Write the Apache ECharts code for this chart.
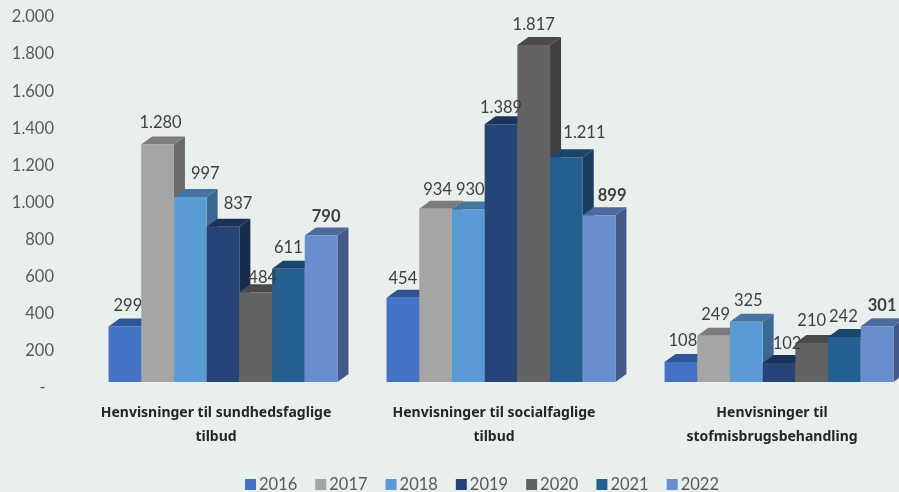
<!DOCTYPE html>
<html>
<head>
<meta charset="utf-8">
<style>html,body{margin:0;padding:0;background:#e9efed}#chart{width:899px;height:492px}</style>
<script src="https://cdn.jsdelivr.net/npm/echarts@6/dist/echarts.min.js"></script>
</head>
<body>
<div id="chart"></div>
<script>
const categories = [
  'Henvisninger til sundhedsfaglige\ntilbud',
  'Henvisninger til socialfaglige\ntilbud',
  'Henvisninger til\nstofmisbrugsbehandling'
];
const years = ['2016', '2017', '2018', '2019', '2020', '2021', '2022'];
const values2016 = [299, 454, 108];
const values2017 = [1280, 934, 249];
const values2018 = [997, 930, 325];
const values2019 = [837, 1389, 102];
const values2020 = [484, 1817, 210];
const values2021 = [611, 1211, 242];
const values2022 = [790, 899, 301];
const allValues = [values2016, values2017, values2018, values2019, values2020, values2021, values2022];

// front, top, side
const colors = [
  ['#4472c4', '#2f5597', '#32558f'],
  ['#a5a5a5', '#7c7c7c', '#6b6b6b'],
  ['#5b9bd5', '#44749f', '#3a6a94'],
  ['#264478', '#1c3359', '#182b4d'],
  ['#636363', '#4a4a4a', '#404040'],
  ['#255e91', '#1b466c', '#183f61'],
  ['#698ed0', '#4f6a9c', '#43598a']
];

const barW = 32.7;
const depthX = 11;
const depthY = 8;
const frontShiftX = 7; // bars sit a bit right of the axis label centre
const frontShiftY = -6; // front face floor is above the axis zero

// hand placed labels like in the original, [dx, dy] per category then year
const labelShift = [
  [[3, -13], [3, -14], [15, -15], [15, -15], [7, -7], [0, -13], [5, -11]],
  [[0, -11], [2, -11], [2, -12], [0, -9], [0, -12], [18, -17], [13, -12]],
  [[2, -13], [2, -13], [2, -13], [8, -11], [0, -14], [-1, -12], [5, -12]]
];

const fmt = v => String(v).replace(/\B(?=(\d{3})+$)/g, '.');

const makeRender = yearIdx => (params, api) => {
  const cat = api.value(0);
  const val = api.value(1);
  const top = api.coord([cat, val]);
  const base = api.coord([cat, 0]);
  const x0 = top[0] + frontShiftX + (yearIdx - 3.5) * barW;
  const x1 = x0 + barW;
  const y0 = top[1] + frontShiftY;
  const y1 = base[1] + frontShiftY;
  const c = colors[yearIdx];
  const shift = labelShift[cat][yearIdx];
  return {
    type: 'group',
    children: [
      {
        type: 'polygon',
        shape: { points: [[x1, y0], [x1 + depthX, y0 - depthY], [x1 + depthX, y1 - depthY], [x1, y1]] },
        style: { fill: c[2] }
      },
      {
        type: 'polygon',
        shape: { points: [[x0, y0], [x0 + depthX, y0 - depthY], [x1 + depthX, y0 - depthY], [x1, y0]] },
        style: { fill: c[1] }
      },
      {
        type: 'rect',
        shape: { x: x0, y: y0, width: barW, height: y1 - y0 },
        style: { fill: c[0] }
      },
      {
        type: 'text',
        z2: 100,
        style: {
          x: (x0 + x1) / 2 + shift[0],
          y: y0 - depthY + shift[1],
          text: fmt(val),
          align: 'center',
          verticalAlign: 'middle',
          fill: '#404040',
          fontFamily: 'Lato',
          fontSize: 16.5,
          fontWeight: yearIdx === 6 ? 'bold' : 'normal'
        }
      }
    ]
  };
};

const chart = echarts.init(document.getElementById('chart'));
chart.setOption({
  backgroundColor: '#e9efed',
  animation: false,
  grid: { left: 77, right: -12, top: 17, bottom: 104, outerBoundsMode: 'none' },
  legend: {
    data: years,
    left: 245,
    top: 476,
    padding: 0,
    icon: 'rect',
    itemWidth: 11,
    itemHeight: 11,
    itemGap: 18,
    textStyle: { color: '#595959', fontFamily: 'Lato', fontSize: 16.5, padding: [0, 0, 0, -2] }
  },
  xAxis: {
    type: 'category',
    data: categories,
    axisLine: { show: false },
    axisTick: { show: false },
    axisLabel: {
      margin: 13,
      interval: 0,
      color: '#262626',
      fontFamily: 'Noto Sans',
      fontWeight: 'bold',
      fontSize: 14,
      lineHeight: 24
    }
  },
  yAxis: {
    type: 'value',
    min: 0,
    max: 2000,
    interval: 200,
    splitLine: { show: false },
    axisLine: { show: false },
    axisTick: { show: false },
    axisLabel: {
      margin: 23,
      color: '#595959',
      fontFamily: 'Lato',
      fontSize: 16.5,
      formatter: v => (v === 0 ? '-\u00a0\u00a0' : fmt(v))
    }
  },
  series: years.map((year, i) => ({
    name: year,
    type: 'custom',
    renderItem: makeRender(i),
    encode: { x: 0, y: 1 },
    itemStyle: { color: colors[i][0] },
    data: allValues[i].map((v, c) => [c, v])
  }))
});
</script>
</body>
</html>
